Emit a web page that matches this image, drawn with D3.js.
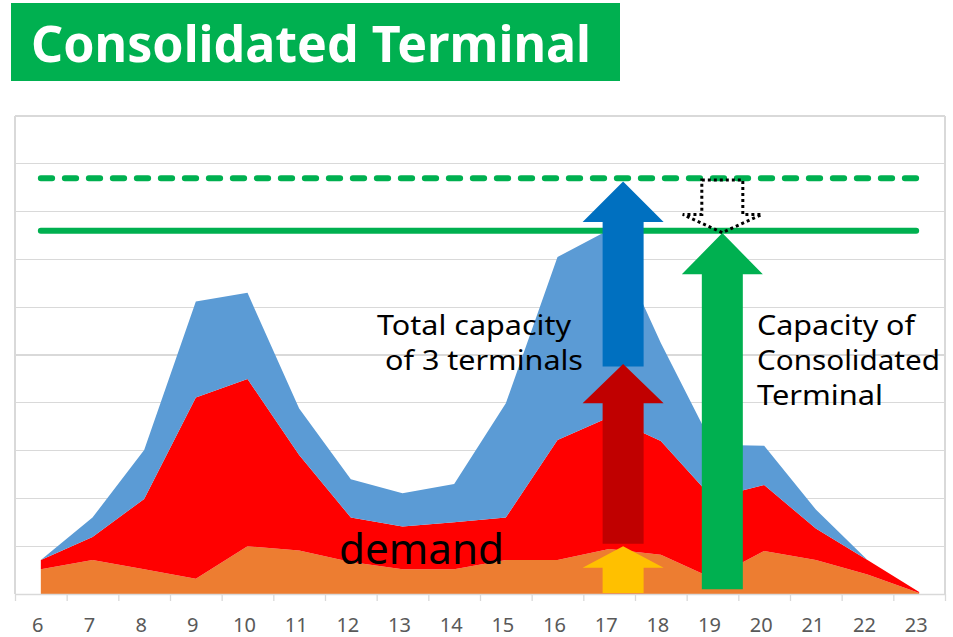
<!DOCTYPE html>
<meta charset="utf-8">
<style>
body{
  margin:0;
  background:#fff;
}
svg text{
  font-family:"Noto Sans", "DejaVu Sans", sans-serif;
}
.grid line{
  stroke:#d9d9d9;
  stroke-width:1.3px;
  shape-rendering:crispEdges;
}
.xaxis path, .xaxis line{
  stroke:#d9d9d9;
  stroke-width:1.3px;
}
.xlabel{
  fill:#595959;
  font-size:20px;
  text-anchor:middle;
}
.note{
  fill:#000;
  font-size:28px;
}
</style>
<body>
<script src="https://cdn.jsdelivr.net/npm/d3@7"></script>
<script>
// hours of the day on the x axis
var hours = [6,7,8,9,10,11,12,13,14,15,16,17,18,19,20,21,22,23];
// stacked layers (units of one gridline)
var orangeLayer = [0.52,0.71,0.52,0.32,1.00,0.91,0.67,0.52,0.52,0.71,0.71,0.94,0.82,0.33,0.90,0.71,0.41,0.02];
var redLayer    = [0.19,0.48,1.47,3.79,3.50,2.00,0.93,0.89,0.98,0.89,2.51,2.76,2.38,1.68,1.38,0.66,0.30,0.02];
var blueLayer   = [0.00,0.41,1.02,2.01,1.80,0.97,0.80,0.70,0.80,2.39,3.83,3.92,2.05,1.11,0.82,0.40,0.00,0.00];
var layerNames = ["orange","red","blue"];

// reference capacity lines
var capTotal = 8.70;        // dashed
var capConsolidated = 7.60; // solid

// arrows: hour position, tip value, head base value, bottom value
var arrowNames = ["total","demandRed","demandYellow","consolidated"];
var arrowHour  = [17.27, 17.27, 17.27, 19.19];
var arrowTip   = [8.63, 4.81, 1.00, 7.55];
var arrowHead  = [7.78, 3.99, 0.55, 6.69];
var arrowBase  = [4.76, 1.05, 0.02, 0.10];

// dotted outline arrow pointing down
var dotHour = 19.19, dotTop = 8.66, dotHead = 7.94, dotTip = 7.56;

var W = 953, H = 637;
var svg = d3.select("body").append("svg").attr("width", W).attr("height", H);

var x = d3.scaleLinear().domain([5.5, 23.5]).range([15, 945]);
var y = d3.scaleLinear().domain([0, 10]).range([594, 116]);

// title box
svg.append("rect").attr("x", 11).attr("y", 3).attr("width", 609).attr("height", 78).attr("fill", "#00B050");
svg.append("text").attr("x", 31).attr("y", 62).attr("fill", "#fff")
  .style("font-size", "51px").style("font-weight", "bold")
  .attr("textLength", 560).attr("lengthAdjust", "spacingAndGlyphs")
  .text("Consolidated Terminal");

// gridlines and frame
var grid = svg.append("g").attr("class", "grid");
grid.selectAll("line.h").data(d3.range(1, 11)).enter().append("line").attr("class", "h")
  .attr("x1", x(5.5)).attr("x2", x(23.5))
  .attr("y1", function(d){ return y(d); }).attr("y2", function(d){ return y(d); });
grid.selectAll("line.v").data([5.5, 23.5]).enter().append("line").attr("class", "v")
  .attr("x1", function(d){ return x(d); }).attr("x2", function(d){ return x(d); })
  .attr("y1", y(10)).attr("y2", y(0));

// stacked areas
var rows = hours.map(function(h, i){
  return {hour:h, orange:orangeLayer[i], red:redLayer[i], blue:blueLayer[i]};
});
var stack = d3.stack().keys(layerNames)(rows);
var colors = {orange:"#ED7D31", red:"#FF0000", blue:"#5B9BD5"};
var area = d3.area()
  .x(function(d){ return x(d.data.hour); })
  .y0(function(d){ return y(d[0]); })
  .y1(function(d){ return y(d[1]); });
svg.append("g").selectAll("path").data(stack).enter().append("path")
  .attr("fill", function(d){ return colors[d.key]; })
  .attr("d", area);

// x axis
var boundaries = d3.range(5.5, 24, 1);
svg.append("g").attr("class", "xaxis").attr("transform", "translate(0," + y(0) + ")")
  .call(d3.axisBottom(x).tickValues(boundaries).tickFormat("").tickSizeInner(7).tickSizeOuter(0));
svg.append("g").selectAll("text").data(hours).enter().append("text").attr("class", "xlabel")
  .attr("x", function(d){ return x(d) - 3; }).attr("y", 632)
  .text(function(d){ return d; });

// capacity lines
svg.append("line")
  .attr("x1", x(6)).attr("x2", x(23) - 3).attr("y1", y(capTotal)).attr("y2", y(capTotal))
  .attr("stroke", "#00B050").attr("stroke-width", 6).attr("stroke-linecap", "round")
  .attr("stroke-dasharray", "11.3,12.7");
svg.append("line")
  .attr("x1", x(6)).attr("x2", x(23) - 3).attr("y1", y(capConsolidated)).attr("y2", y(capConsolidated))
  .attr("stroke", "#00B050").attr("stroke-width", 6).attr("stroke-linecap", "round");

// block arrows
var arrowColors = {total:"#0070C0", demandRed:"#C00000", demandYellow:"#FFC000", consolidated:"#00B050"};
var shaftW = 41, headW = 81;
function upArrow(cx, tip, head, base){
  var s = shaftW / 2, hw = headW / 2;
  return "M" + cx + "," + tip +
    "L" + (cx + hw) + "," + head +
    "L" + (cx + s) + "," + head +
    "L" + (cx + s) + "," + base +
    "L" + (cx - s) + "," + base +
    "L" + (cx - s) + "," + head +
    "L" + (cx - hw) + "," + head + "Z";
}
svg.append("g").selectAll("path").data(arrowNames).enter().append("path")
  .attr("fill", function(d){ return arrowColors[d]; })
  .attr("d", function(d, i){
    return upArrow(x(arrowHour[i]), y(arrowTip[i]), y(arrowHead[i]), y(arrowBase[i]));
  });

// dotted arrow pointing down
(function(){
  var cx = x(dotHour), s = shaftW / 2, hw = 39.5;
  var d = "M" + (cx - s) + "," + y(dotTop) +
    "L" + (cx + s) + "," + y(dotTop) +
    "L" + (cx + s) + "," + y(dotHead) +
    "L" + (cx + hw) + "," + y(dotHead) +
    "L" + cx + "," + y(dotTip) +
    "L" + (cx - hw) + "," + y(dotHead) +
    "L" + (cx - s) + "," + y(dotHead) + "Z";
  svg.append("path").attr("d", d).attr("fill", "none")
    .attr("stroke", "#000").attr("stroke-width", 3).attr("stroke-dasharray", "3,3");
})();

// annotations
function note(tx, ty, str, len, size){
  svg.append("text").attr("class", "note").attr("x", tx).attr("y", ty)
    .style("font-size", (size || 28) + "px")
    .attr("textLength", len).attr("lengthAdjust", "spacingAndGlyphs")
    .text(str);
}
note(377, 335, "Total capacity", 194);
note(385, 370, "of 3 terminals", 198);
note(757, 335, "Capacity of", 158);
note(757, 370, "Consolidated", 183);
note(757, 405, "Terminal", 126);
note(339, 564, "demand", 165, 42);
</script>
</body>
